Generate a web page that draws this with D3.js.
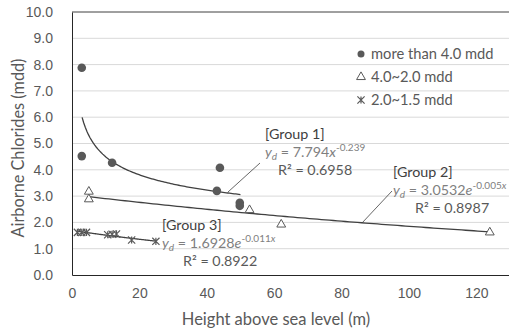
<!DOCTYPE html>
<html>
<head>
<meta charset="utf-8">
<script src="https://cdn.jsdelivr.net/npm/d3@7"></script>
<style>
  body { margin: 0; background: #fff; }
  svg { font-family: Lato, "Noto Sans", sans-serif; }
</style>
</head>
<body>
<div id="chart"></div>
<script>
// data
const group1 = [[2.9, 7.88], [2.9, 4.52], [11.9, 4.27], [43.9, 4.08], [43, 3.2], [49.8, 2.75], [49.8, 2.63]];
const group2 = [[5, 3.17], [5, 2.88], [52.7, 2.47], [62.1, 1.92], [124, 1.62]];
const group3 = [[1.6, 1.62], [2.9, 1.62], [4.3, 1.62], [10.6, 1.53], [11.9, 1.55], [13.2, 1.56], [17.7, 1.33], [24.9, 1.28]];
const legendLabels = ["more than 4.0 mdd", "4.0~2.0 mdd", "2.0~1.5 mdd"];
const yTicks = [0, 1, 2, 3, 4, 5, 6, 7, 8, 9, 10];
const xTicks = [0, 20, 40, 60, 80, 100, 120];

// fitted trend lines shown on the chart
const fit1 = x => 7.794 * Math.pow(x, -0.239);
const fit2 = x => 3.0532 * Math.exp(-0.005 * x);
const fit3 = x => 1.6928 * Math.exp(-0.011 * x);

const width = 509, height = 332;
const margin = { top: 12, right: -1, bottom: 57, left: 72 };

const svg = d3.select("#chart").append("svg")
    .attr("width", width)
    .attr("height", height);

const x = d3.scaleLinear().domain([0, 130]).range([margin.left, width - margin.right]);
const y = d3.scaleLinear().domain([0, 10]).range([height - margin.bottom, margin.top]);

const textCol = "#595959";

// gridlines
svg.append("g")
    .selectAll("line")
    .data(yTicks.slice(1, -1))
    .enter().append("line")
    .attr("x1", x(0)).attr("x2", x(130))
    .attr("y1", d => y(d)).attr("y2", d => y(d))
    .attr("stroke", "#d9d9d9").attr("stroke-width", 1);

// top border
svg.append("line").attr("x1", x(0)).attr("x2", x(130)).attr("y1", y(10)).attr("y2", y(10))
    .attr("stroke", "#404040");

const yAxis = d3.axisLeft(y).tickValues(yTicks).tickFormat(d3.format(".1f")).tickSize(0).tickPadding(19);
const xAxis = d3.axisBottom(x).tickValues(xTicks).tickSize(0).tickPadding(13);

svg.append("g")
    .attr("transform", "translate(" + x(0) + ",0)")
    .call(yAxis)
    .call(g => g.select(".domain").attr("stroke", "#262626"))
    .selectAll("text").attr("fill", textCol).attr("font-size", 14);

svg.append("g")
    .attr("transform", "translate(0," + y(0) + ")")
    .call(xAxis)
    .call(g => g.select(".domain").attr("stroke", "#262626"))
    .selectAll("text").attr("fill", textCol).attr("font-size", 14);

// axis titles
svg.append("text")
    .attr("x", 276).attr("y", 325)
    .attr("text-anchor", "middle")
    .attr("fill", textCol).attr("font-size", 16.5)
    .text("Height above sea level (m)");

svg.append("text")
    .attr("transform", "translate(24,148) rotate(-90)")
    .attr("text-anchor", "middle")
    .attr("fill", textCol).attr("font-size", 16.3)
    .text("Airborne Chlorides (mdd)");

// trend lines
const line = d3.line().x(d => x(d[0])).y(d => y(d[1]));
function trend(f, x0, x1) {
    return d3.range(0, 101).map(i => {
        const xv = x0 + (x1 - x0) * i / 100;
        return [xv, f(xv)];
    });
}
[[fit1, 3, 50], [fit2, 5, 124], [fit3, 1.6, 24.9]].forEach(t => {
    svg.append("path")
        .attr("d", line(trend(t[0], t[1], t[2])))
        .attr("fill", "none")
        .attr("stroke", "#404040")
        .attr("stroke-width", 1.3);
});

// markers
const markCol = "#595959";
function circleMark(g, cx, cy) {
    g.append("circle").attr("cx", cx).attr("cy", cy).attr("r", 4.3).attr("fill", markCol);
}
function triMark(g, cx, cy) {
    g.append("path")
        .attr("d", d3.symbol().type(d3.symbolTriangle).size(34)())
        .attr("transform", "translate(" + cx + "," + cy + ")")
        .attr("fill", "#fff").attr("stroke", markCol).attr("stroke-width", 1);
}
function starMark(g, cx, cy) {
    const s = 3.6;
    g.append("path")
        .attr("d", "M" + (cx - s) + "," + (cy - s) + "L" + (cx + s) + "," + (cy + s) +
            "M" + (cx - s) + "," + (cy + s) + "L" + (cx + s) + "," + (cy - s) +
            "M" + cx + "," + (cy - s) + "L" + cx + "," + (cy + s))
        .attr("stroke", markCol).attr("stroke-width", 1.2).attr("fill", "none");
}

const marks = svg.append("g");
group1.forEach(d => circleMark(marks, x(d[0]), y(d[1])));
group2.forEach(d => triMark(marks, x(d[0]), y(d[1])));
group3.forEach(d => starMark(marks, x(d[0]), y(d[1])));

// legend
const legend = svg.append("g");
const markers = [circleMark, triMark, starMark];
legendLabels.forEach((lab, i) => {
    const ly = 54 + i * 23;
    if (i === 0) legend.append("circle").attr("cx", 361).attr("cy", ly).attr("r", 3.5).attr("fill", markCol);
    else markers[i](legend, 361, ly);
    legend.append("text")
        .attr("x", 371).attr("y", ly + 5)
        .attr("fill", textCol).attr("font-size", 14.7)
        .text(lab);
});

// fit annotations
function annot(gx, gy, name, pre, coef, sup, post, r2, r2x) {
    const g = svg.append("g").attr("font-size", 14.3);
    g.append("text").attr("x", gx).attr("y", gy).attr("fill", "#404040").text(name);
    const eq = g.append("text").attr("x", gx).attr("y", gy + 18).attr("fill", "#7f7f7f");
    eq.append("tspan").attr("font-style", "italic").text("y");
    eq.append("tspan").attr("font-style", "italic").attr("font-size", 10).attr("dy", 3).text("d");
    eq.append("tspan").attr("dy", -3).text(" = " + coef);
    eq.append("tspan").attr("font-style", "italic").text(pre);
    eq.append("tspan").attr("font-size", 10).attr("dy", -6).text(sup);
    if (post) eq.append("tspan").attr("font-size", 10).attr("font-style", "italic").text(post);
    g.append("text").attr("x", r2x).attr("y", gy + 36).attr("fill", textCol)
        .text("R² = " + r2);
}
annot(265, 139, "[Group 1]", "x", "7.794", "-0.239", "", "0.6958", 278);
annot(393, 177, "[Group 2]", "e", "3.0532", "-0.005", "x", "0.8987", 415);
annot(162, 230, "[Group 3]", "e", "1.6928", "-0.011", "x", "0.8922", 183);

// leader lines
svg.append("line").attr("x1", 260).attr("y1", 163).attr("x2", 228).attr("y2", 192)
    .attr("stroke", "#404040").attr("stroke-width", 0.8);
svg.append("line").attr("x1", 392).attr("y1", 191).attr("x2", 362).attr("y2", 223)
    .attr("stroke", "#404040").attr("stroke-width", 0.8);
</script>
</body>
</html>
